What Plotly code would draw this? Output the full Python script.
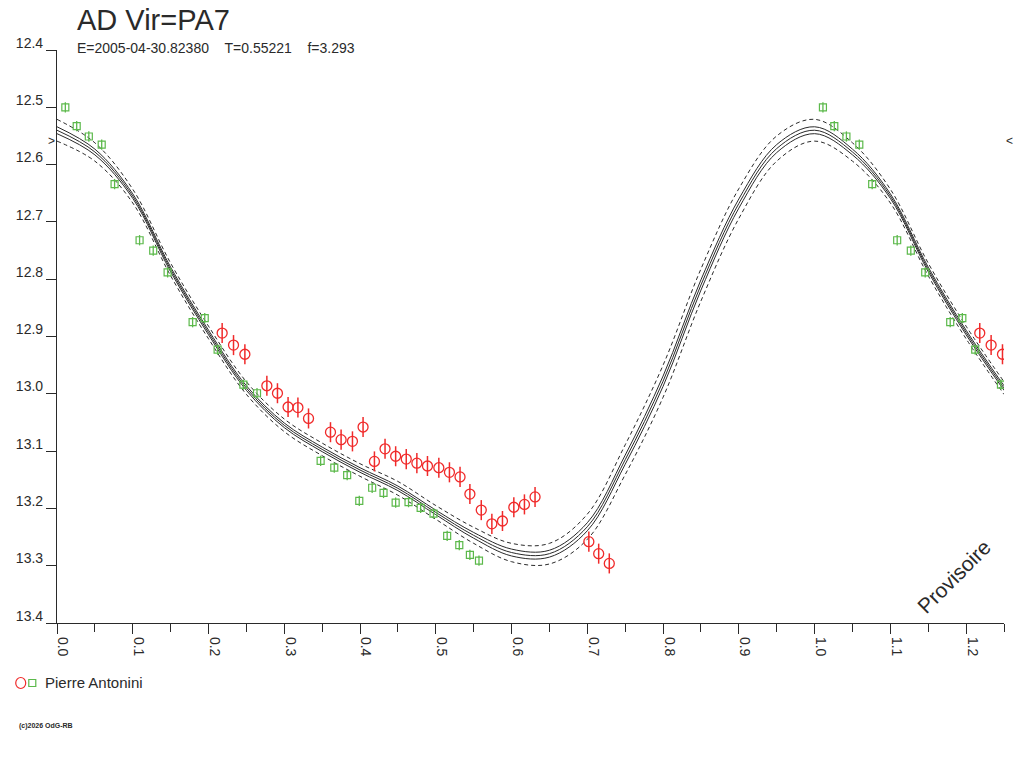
import plotly.graph_objects as go
import numpy as np

# fitted light curve (phase 0..0.95, step 0.05) and its band half-widths
curve_phase = [0.00, 0.05, 0.10, 0.15, 0.20, 0.25, 0.30, 0.35, 0.40, 0.45,
               0.50, 0.55, 0.60, 0.65, 0.70, 0.75, 0.80, 0.85, 0.90, 0.95]
curve_mag = [12.540, 12.578, 12.655, 12.783, 12.893, 12.990, 13.055, 13.097, 13.133, 13.165,
             13.207, 13.247, 13.277, 13.279, 13.232, 13.115, 12.978, 12.810, 12.668, 12.572]
band_inner = [0.006, 0.005, 0.004, 0.004, 0.004, 0.004, 0.004, 0.004, 0.004, 0.004,
              0.004, 0.005, 0.006, 0.006, 0.007, 0.008, 0.009, 0.009, 0.008, 0.007]
band_outer = [0.019, 0.016, 0.012, 0.011, 0.011, 0.011, 0.011, 0.011, 0.011, 0.012,
              0.012, 0.014, 0.016, 0.018, 0.022, 0.026, 0.028, 0.028, 0.026, 0.022]

# Pierre Antonini - red circles
red_phase = [0.218, 0.233, 0.248, 0.277, 0.291, 0.305, 0.318, 0.332, 0.361, 0.375,
             0.390, 0.404, 0.419, 0.433, 0.447, 0.461, 0.475, 0.489, 0.504, 0.518,
             0.532, 0.545, 0.560, 0.574, 0.588, 0.603, 0.617, 0.631, 0.702, 0.715, 0.729]
red_mag = [12.894, 12.915, 12.931, 12.986, 12.999, 13.023, 13.024, 13.043, 13.067, 13.080,
           13.083, 13.058, 13.118, 13.096, 13.109, 13.114, 13.121, 13.126, 13.129, 13.137,
           13.145, 13.175, 13.203, 13.227, 13.222, 13.198, 13.193, 13.180, 13.258, 13.279, 13.296]
red_err = 0.0175

# Pierre Antonini - green squares
green_phase = [0.011, 0.026, 0.042, 0.059, 0.076, 0.109, 0.127, 0.146, 0.179, 0.195,
               0.212, 0.246, 0.264, 0.348, 0.366, 0.383, 0.399, 0.416, 0.431, 0.447,
               0.464, 0.480, 0.497, 0.515, 0.531, 0.545, 0.557]
green_mag = [12.500, 12.533, 12.551, 12.565, 12.634, 12.732, 12.750, 12.788, 12.875, 12.868,
             12.923, 12.984, 12.999, 13.117, 13.129, 13.142, 13.187, 13.164, 13.173, 13.190,
             13.189, 13.199, 13.209, 13.248, 13.264, 13.281, 13.291]
green_err = 0.009

mean_mag = 12.558
x_ticks = [0.0, 0.1, 0.2, 0.3, 0.4, 0.5, 0.6, 0.7, 0.8, 0.9, 1.0, 1.1, 1.2]
PHASE_MAX = 1.25

INK = "#2a2a2a"
RED = "#f02a2a"
GREEN = "#5cb94b"
FONT = "Liberation Sans"


def fold(phase, *cols):
    # repeat the start of the cycle after phase 1.0
    phase = np.asarray(phase, dtype=float)
    keep = phase + 1 <= PHASE_MAX + 1e-9
    out = [np.concatenate([phase, phase[keep] + 1])]
    for c in cols:
        c = np.asarray(c, dtype=float)
        out.append(np.concatenate([c, c[keep]]))
    return out


cx, cm, bi, bo = fold(curve_phase, curve_mag, band_inner, band_outer)
rx, rm = fold(red_phase, red_mag)
gx, gm = fold(green_phase, green_mag)

fig = go.Figure()

for off, dash in [(-bo, "4px,3px"), (bo, "4px,3px"), (-bi, "solid"), (bi, "solid"), (0 * bi, "solid")]:
    fig.add_trace(go.Scatter(
        x=cx, y=cm + off, mode="lines", line_shape="spline",
        line=dict(color=INK, width=1, dash=dash),
        showlegend=False, hoverinfo="skip",
    ))

fig.add_trace(go.Scatter(
    x=rx, y=rm, mode="markers",
    marker=dict(symbol="circle-open", size=10, color=RED, line=dict(width=1.3, color=RED)),
    error_y=dict(type="constant", value=red_err, color=RED, thickness=1.5, width=0),
    showlegend=False,
))
fig.add_trace(go.Scatter(
    x=gx, y=gm, mode="markers",
    marker=dict(symbol="square-open", size=7, color=GREEN, line=dict(width=1.2, color=GREEN)),
    error_y=dict(type="constant", value=green_err, color=GREEN, thickness=1.3, width=0),
    showlegend=False,
))

fig.update_xaxes(
    range=[0, PHASE_MAX], showgrid=False, zeroline=False, automargin=False,
    showline=True, linecolor=INK, linewidth=1.2,
    tickvals=x_ticks, ticktext=["%.1f" % v for v in x_ticks],
    ticks="outside", ticklen=10, tickcolor=INK, tickangle=90, ticklabelshift=6,
    minor=dict(dtick=0.05, tick0=0.05, ticks="outside", ticklen=8, tickcolor=INK),
    tickfont=dict(size=14, color=INK, family=FONT),
)
fig.update_yaxes(
    range=[13.4, 12.4], showgrid=False, zeroline=False, automargin=False,
    showline=True, linecolor=INK, linewidth=1.2,
    dtick=0.1, tick0=12.4, tickformat=".1f",
    ticks="outside", ticklen=10, tickcolor=INK,
    ticklabelposition="outside top", ticklabelstandoff=10, ticklabelshift=-3,
    tickfont=dict(size=14, color=INK, family=FONT),
)

ann = [
    dict(text="AD Vir=PA7", x=0.019, y=1.052, size=29),
    dict(text="E=2005-04-30.82380\u00a0\u00a0\u00a0\u00a0T=0.55221\u00a0\u00a0\u00a0\u00a0f=3.293",
         x=0.019, y=1.003, size=14),
    dict(text="Pierre Antonini", x=-0.0148, y=-0.1047, size=15),
    dict(text="<b>(c)2026 OdG-RB</b>", x=-0.042, y=-0.179, size=7),
]
for a in ann:
    fig.add_annotation(xref="paper", yref="paper", xanchor="left", yanchor="middle",
                       showarrow=False, text=a["text"], x=a["x"], y=a["y"],
                       font=dict(color=INK, family=FONT, size=a["size"]))

fig.add_annotation(xref="paper", yref="paper", x=0.947, y=0.082, text="Provisoire",
                   xanchor="center", yanchor="middle", textangle=-45, showarrow=False,
                   font=dict(size=21, color=INK, family=FONT))
fig.add_annotation(xref="paper", yref="y", x=0.0, y=mean_mag, text="&gt;",
                   xanchor="right", yanchor="middle", showarrow=False,
                   font=dict(size=12, color=INK, family=FONT))
fig.add_annotation(xref="paper", yref="y", x=1.0, y=mean_mag, text="&lt;",
                   xanchor="left", yanchor="middle", showarrow=False,
                   font=dict(size=12, color=INK, family=FONT))

fig.add_shape(type="circle", xref="paper", yref="paper", xsizemode="pixel", ysizemode="pixel",
              xanchor=-0.0383, yanchor=-0.1047, x0=-5, x1=5, y0=-5.5, y1=5.5,
              line=dict(color=RED, width=1.2))
fig.add_shape(type="rect", xref="paper", yref="paper", xsizemode="pixel", ysizemode="pixel",
              xanchor=-0.0261, yanchor=-0.1047, x0=-3.5, x1=3.5, y0=-3.5, y1=3.5,
              line=dict(color=GREEN, width=1.2))

fig.update_layout(
    width=1024, height=768, autosize=False,
    margin=dict(l=57, r=20, t=50, b=145),
    plot_bgcolor="white", paper_bgcolor="white",
    font=dict(family=FONT, color=INK),
    showlegend=False,
)

# drop the default 8px page margin so the figure fills the window
fig.write_html("out.html", config={"displayModeBar": False},
               post_script="document.body.style.margin = '0';")
